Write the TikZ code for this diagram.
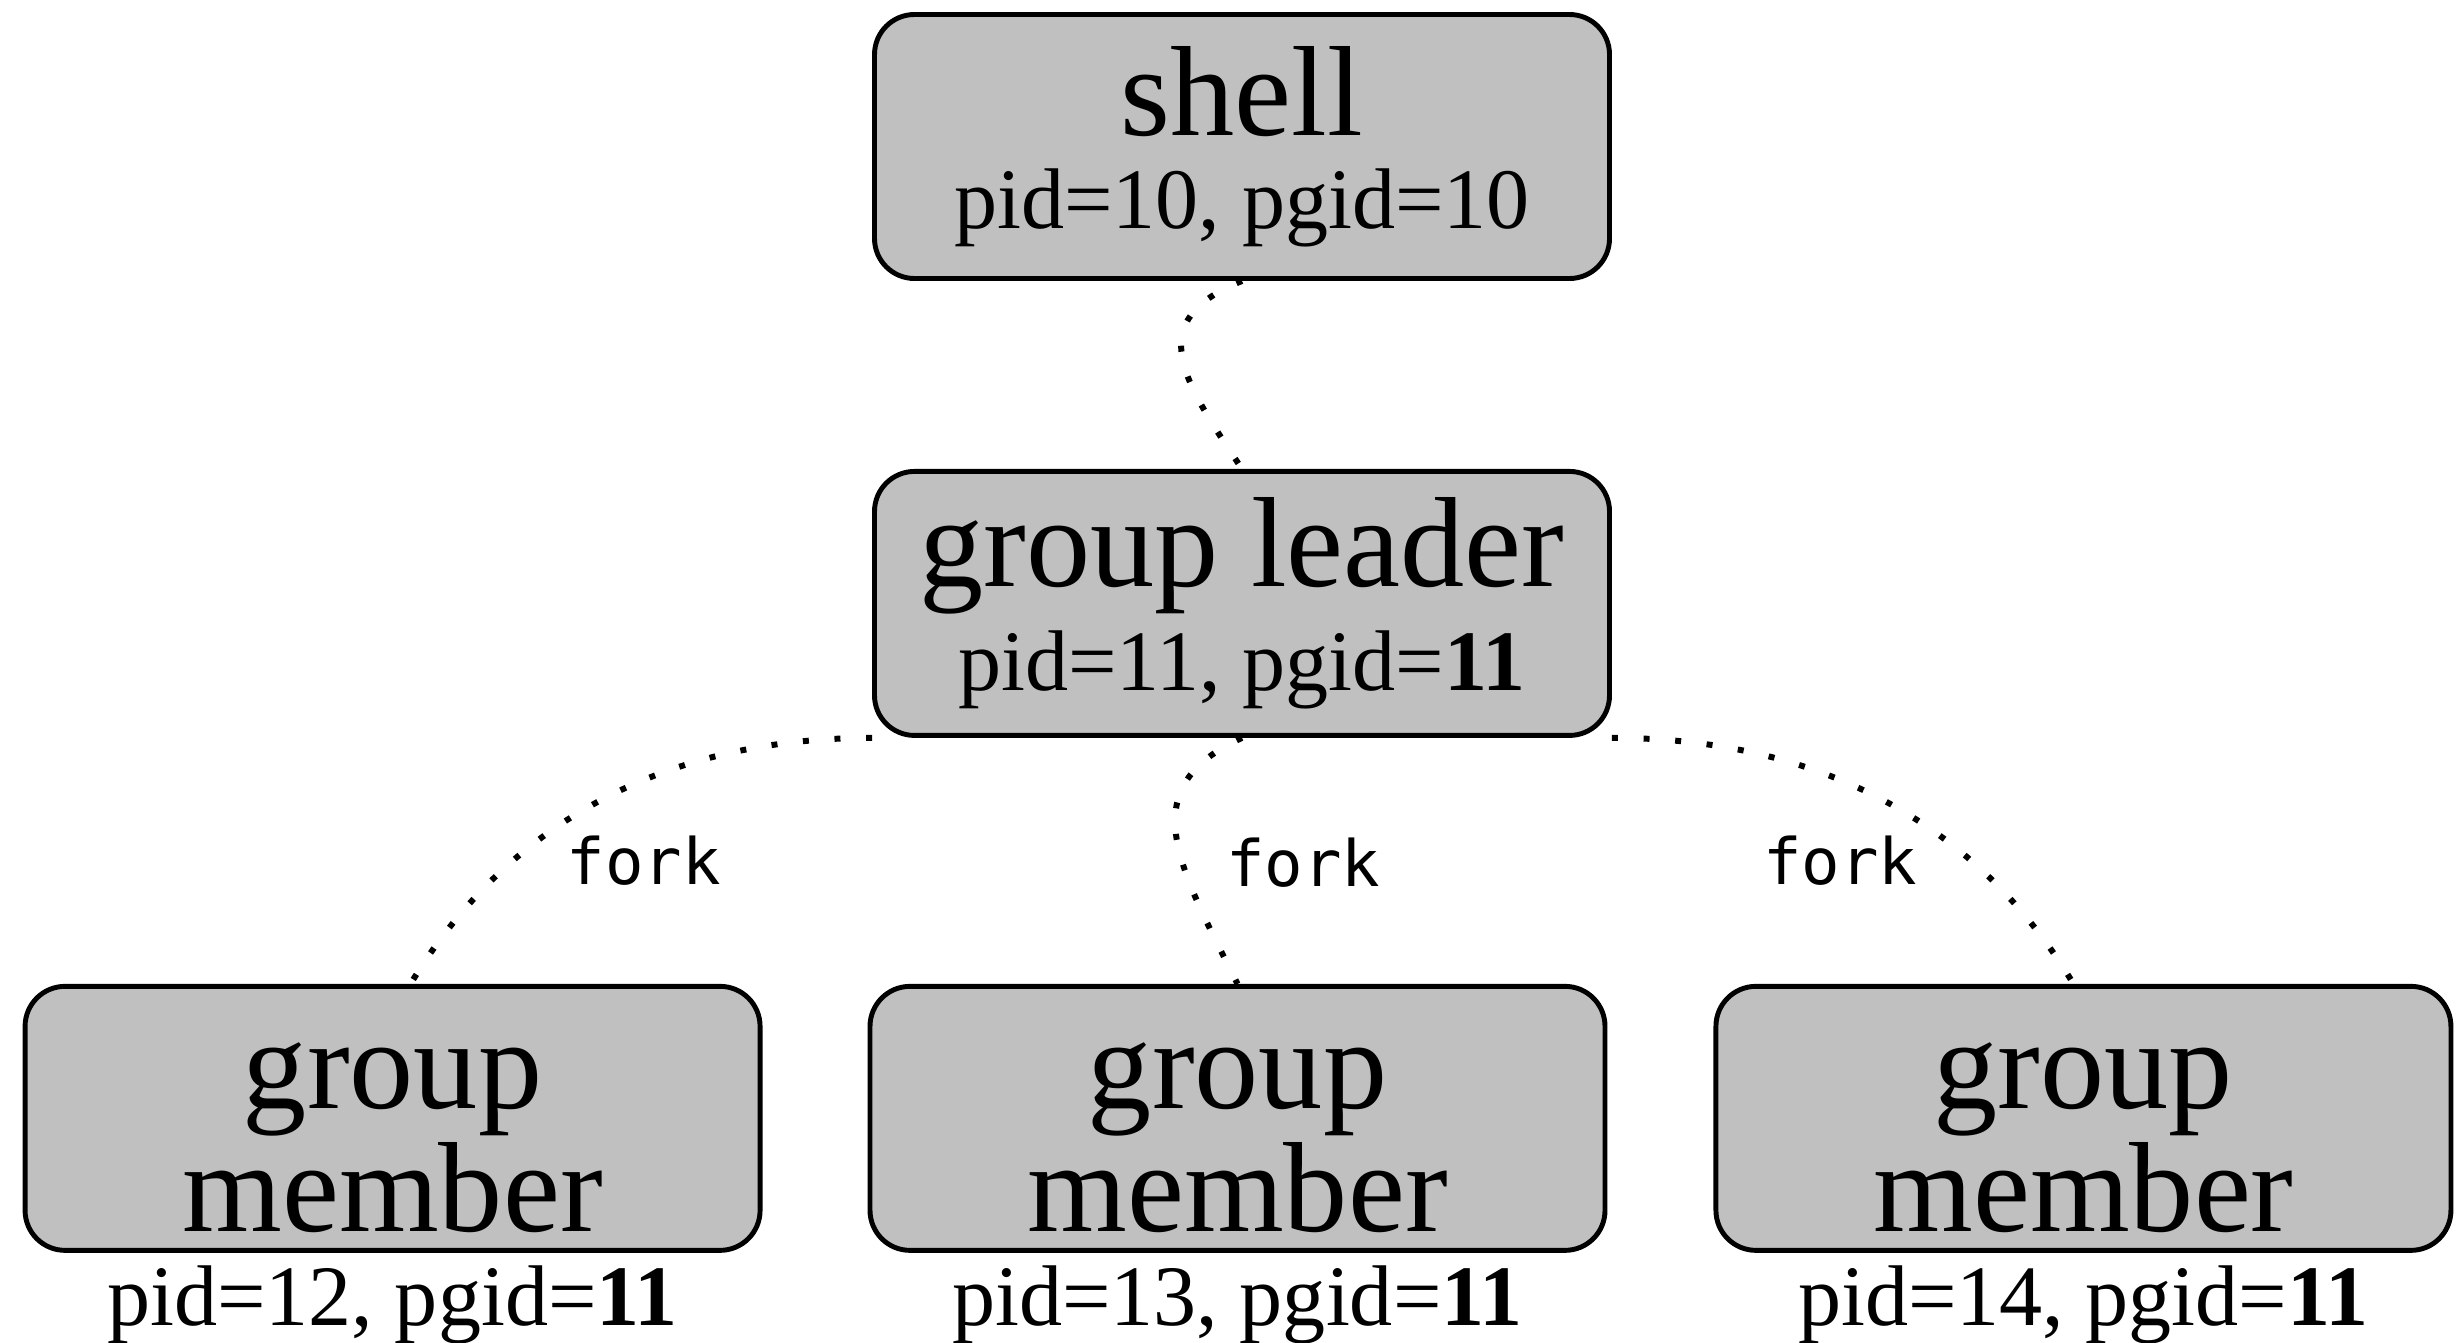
\documentclass[tikz,border=0pt]{standalone}
\usepackage{fontspec}
\setmainfont{Liberation Serif}
\setmonofont{DejaVu Sans Mono}
\usetikzlibrary{positioning}
\definecolor{procgray}{RGB}{192,192,192}
\newcommand{\pidtext}[1]{{\fontsize{24.5}{28}\selectfont #1}}

\begin{document}
\begin{tikzpicture}[
  proc/.style={draw=black, line width=1.4pt, rounded corners=0.4cm, fill=procgray,
               minimum width=7.35cm, minimum height=2.64cm, align=center,
               font=\fontsize{36.5}{35}\selectfont},
  pidlbl/.style={inner sep=0pt, font=\fontsize{24.5}{28}\selectfont},
  forkline/.style={line width=1.7pt, dash pattern=on 1.7pt off 7.3pt},
  forklbl/.style={inner sep=0pt, font=\fontsize{18.2}{20}\selectfont\ttfamily}
]
\useasboundingbox (0,0) rectangle (24.63,-13.42);

\node[proc] (shell) at (12.42,-1.465) {shell\\[-8.5pt]\pidtext{pid=10, pgid=10}};
\node[proc, below=1.88cm of shell] (leader)
      {group leader\\[-5.5pt]\pidtext{pid=11, pgid=\textbf{11}}};

\node[proc, below=2.46cm of leader, xshift=-0.045cm] (m13) {\rule{0pt}{29.5pt}group\\member};
\node[proc, left=1.05cm of m13]  (m12) {\rule{0pt}{29.5pt}group\\member};
\node[proc, right=1.06cm of m13] (m14) {\rule{0pt}{29.5pt}group\\member};

\node[pidlbl, below=0.12cm of m12] (pid12) {pid=12, pgid=\textbf{11}};
\node[pidlbl, below=0.12cm of m13] (pid13) {pid=13, pgid=\textbf{11}};
\node[pidlbl, below=0.12cm of m14] (pid14) {pid=14, pgid=\textbf{11}};

\draw[forkline] (shell.south) .. controls +(-1,-0.4) and +(-0.6,0.9) .. (leader.north);

% children of the leader
\draw[forkline] (leader.south west) .. controls +(-2.2,0) and +(0.9,1.5) ..
      ([xshift=0.18cm]m12.north)
      node[forklbl, pos=0.6, anchor=north west, xshift=0.15cm] (fork12) {fork};
\draw[forkline] (leader.south) .. controls +(-1.1,-0.5) and +(-0.6,1.2) ..
      (m13.north)
      node[forklbl, pos=0.5, anchor=north west, xshift=0.47cm] (fork13) {fork};
\draw[forkline] (leader.south east) .. controls +(2.2,0) and +(-0.9,1.5) ..
      ([xshift=-0.1cm]m14.north)
      node[forklbl, pos=0.6, anchor=north east, xshift=-0.15cm] (fork14) {fork};
\end{tikzpicture}
\end{document}
